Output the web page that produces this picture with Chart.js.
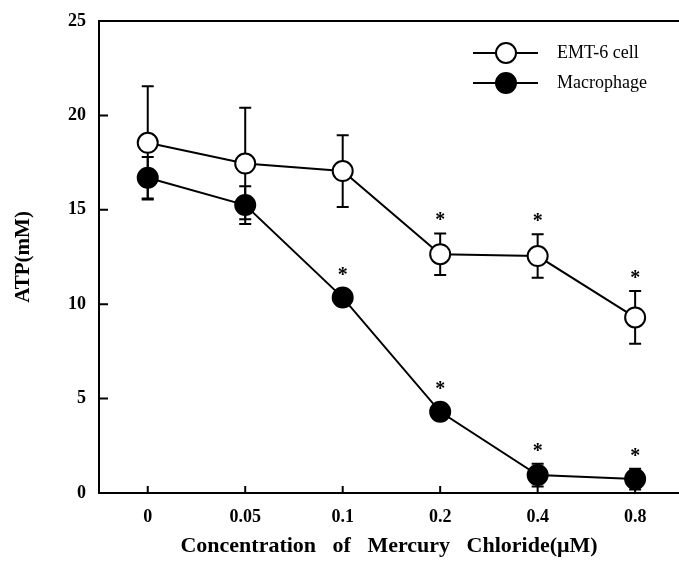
<!DOCTYPE html>
<html>
<head>
<meta charset="utf-8">
<script src="https://cdn.jsdelivr.net/npm/chart.js@4/dist/chart.umd.min.js"></script>
<style>
  html, body { margin: 0; padding: 0; background: #fff; }
  #wrap { width: 679px; height: 563px; }
</style>
</head>
<body>
<div id="wrap"><canvas id="atpChart" width="679" height="563"></canvas></div>
<script>
  // ── Data ───────────────────────────────────────────────────────────────
  var concentrations = ['0', '0.05', '0.1', '0.2', '0.4', '0.8'];

  var emtMean = [18.55, 17.45, 17.05, 12.65, 12.55, 9.3];
  var emtSd   = [3.0, 2.95, 1.9, 1.1, 1.15, 1.4];
  var emtSig  = [false, false, false, true, true, true];

  var macMean = [16.7, 15.25, 10.35, 4.3, 0.95, 0.74];
  var macSd   = [1.1, 1.0, 0.3, 0.3, 0.6, 0.55];
  var macSig  = [false, false, true, true, true, true];

  var yTicks = [0, 5, 10, 15, 20, 25];

  var SERIF = '"Liberation Serif", "Times New Roman", serif';
  var MARKER_R = 10;

  function toPoints(arr) {
    return arr.map(function (v, i) { return { x: i, y: v }; });
  }

  // ── Plugin: frame, inward ticks, error bars, asterisks, legend ─────────
  var decorations = {
    id: 'decorations',
    beforeDatasetsDraw: function (chart) {
      var ctx = chart.ctx;
      var xs = chart.scales.x, ys = chart.scales.y;
      ctx.save();
      ctx.strokeStyle = '#000';
      ctx.lineWidth = 2;
      var series = [[emtMean, emtSd], [macMean, macSd]];
      series.forEach(function (s) {
        s[0].forEach(function (v, i) {
          var x  = xs.getPixelForValue(i);
          var hi = ys.getPixelForValue(v + s[1][i]);
          var lo = ys.getPixelForValue(v - s[1][i]);
          ctx.beginPath();
          ctx.moveTo(x, hi); ctx.lineTo(x, lo);
          ctx.moveTo(x - 6, hi); ctx.lineTo(x + 6, hi);
          ctx.moveTo(x - 6, lo); ctx.lineTo(x + 6, lo);
          ctx.stroke();
        });
      });
      ctx.restore();
    },
    afterDraw: function (chart) {
      var ctx = chart.ctx;
      var a = chart.chartArea;
      var xs = chart.scales.x, ys = chart.scales.y;
      ctx.save();
      ctx.strokeStyle = '#000';
      ctx.fillStyle = '#000';
      ctx.lineWidth = 2;

      // top frame line
      ctx.beginPath();
      ctx.moveTo(a.left, a.top); ctx.lineTo(a.right, a.top);
      ctx.stroke();

      // inward ticks
      ctx.beginPath();
      yTicks.forEach(function (t) {
        var y = ys.getPixelForValue(t);
        ctx.moveTo(a.left, y); ctx.lineTo(a.left + 9, y);
      });
      concentrations.forEach(function (c, i) {
        var x = xs.getPixelForValue(i);
        ctx.moveTo(x, a.bottom); ctx.lineTo(x, a.bottom - 7);
      });
      ctx.stroke();

      // significance asterisks
      ctx.font = 'bold 20px ' + SERIF;
      ctx.textAlign = 'center';
      ctx.textBaseline = 'alphabetic';
      [[emtMean, emtSd, emtSig], [macMean, macSd, macSig]].forEach(function (s) {
        s[0].forEach(function (v, i) {
          if (!s[2][i]) return;
          var x = xs.getPixelForValue(i);
          var top = Math.min(ys.getPixelForValue(v + s[1][i]), ys.getPixelForValue(v) - MARKER_R);
          ctx.fillText('*', x, top - 18 + 11);
        });
      });

      // legend
      var rows = [
        { label: 'EMT-6 cell', fill: '#fff', y: 53 },
        { label: 'Macrophage', fill: '#000', y: 83 }
      ];
      ctx.font = '18px ' + SERIF;
      ctx.textAlign = 'left';
      ctx.textBaseline = 'middle';
      rows.forEach(function (r) {
        ctx.beginPath();
        ctx.moveTo(473, r.y); ctx.lineTo(538, r.y);
        ctx.stroke();
        ctx.beginPath();
        ctx.arc(506, r.y, MARKER_R, 0, Math.PI * 2);
        ctx.fillStyle = r.fill;
        ctx.fill();
        ctx.stroke();
        ctx.fillStyle = '#000';
        ctx.fillText(r.label, 557, r.y);
      });
      ctx.restore();
    }
  };

  // ── Chart ───────────────────────────────────────────────────────────────
  new Chart(document.getElementById('atpChart').getContext('2d'), {
    type: 'line',
    data: {
      datasets: [
        {
          label: 'EMT-6 cell',
          data: toPoints(emtMean),
          borderColor: '#000',
          borderWidth: 2,
          backgroundColor: '#fff',
          pointBackgroundColor: '#fff',
          pointBorderColor: '#000',
          pointBorderWidth: 2,
          pointRadius: MARKER_R,
          tension: 0,
          clip: false
        },
        {
          label: 'Macrophage',
          data: toPoints(macMean),
          borderColor: '#000',
          borderWidth: 2,
          backgroundColor: '#000',
          pointBackgroundColor: '#000',
          pointBorderColor: '#000',
          pointBorderWidth: 2,
          pointRadius: MARKER_R,
          tension: 0,
          clip: false
        }
      ]
    },
    options: {
      responsive: false,
      animation: false,
      devicePixelRatio: 1,
      layout: { autoPadding: false, padding: { top: 21, right: 0, left: 0, bottom: 0 } },
      plugins: {
        legend: { display: false },
        tooltip: { enabled: false }
      },
      scales: {
        x: {
          type: 'linear',
          min: -0.5,
          max: 5.45,
          afterFit: function (s) {
            s.height = 70;
            s.paddingLeft = 0;
            s.paddingRight = 0;
          },
          afterBuildTicks: function (s) {
            s.ticks = concentrations.map(function (c, i) { return { value: i }; });
          },
          grid: { display: false, drawTicks: false },
          border: { display: true, color: '#000', width: 2 },
          ticks: {
            color: '#000',
            padding: 14,
            maxRotation: 0,
            font: { family: SERIF, size: 18, weight: 'bold' },
            callback: function (v) { return concentrations[v]; }
          },
          title: {
            display: true,
            text: 'Concentration   of   Mercury   Chloride(\u03bcM)',
            color: '#000',
            font: { family: SERIF, size: 22, weight: 'bold' },
            padding: { top: 3, bottom: 3 }
          }
        },
        y: {
          min: 0,
          max: 25,
          afterFit: function (s) {
            s.width = 99;
            s.paddingTop = 0;
            s.paddingBottom = 0;
          },
          afterBuildTicks: function (s) {
            s.ticks = yTicks.map(function (t) { return { value: t }; });
          },
          grid: { display: false, drawTicks: false },
          border: { display: true, color: '#000', width: 2 },
          ticks: {
            color: '#000',
            padding: 13,
            font: { family: SERIF, size: 18, weight: 'bold' }
          },
          title: {
            display: true,
            text: 'ATP(mM)',
            color: '#000',
            font: { family: SERIF, size: 21, weight: 'bold' },
            padding: { top: 11, bottom: 10 }
          }
        }
      }
    },
    plugins: [decorations]
  });
</script>
</body>
</html>
